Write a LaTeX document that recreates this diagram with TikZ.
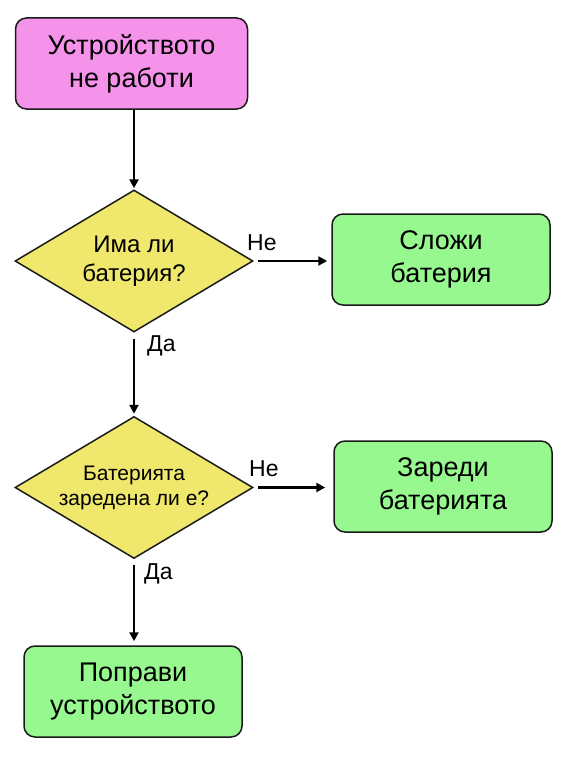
\documentclass[tikz,border=0pt]{standalone}
\usepackage{fontspec}
\setmainfont{Liberation Sans}
\usetikzlibrary{shapes.geometric,arrows.meta}
\definecolor{pinkfill}{HTML}{F593EA}
\definecolor{yellowfill}{HTML}{F0E86C}
\definecolor{greenfill}{HTML}{98F890}
\definecolor{edgecol}{HTML}{1A1A1A}
\begin{document}
\begin{tikzpicture}[x=1pt,y=-1pt,
  boxbase/.style={draw=edgecol, line width=1.5pt, rounded corners=11pt,
    minimum height=91pt, align=center, inner sep=0pt,
    font=\fontsize{27}{33}\selectfont},
  startbox/.style={boxbase, fill=pinkfill, minimum width=232pt},
  actbox/.style={boxbase, fill=greenfill, minimum width=218pt},
  decision/.style={diamond, draw=edgecol, line width=1.5pt, fill=yellowfill,
    aspect=1.676, inner sep=0pt, minimum width=238pt, minimum height=142pt,
    align=center},
  arr/.style={line width=2.5pt, -{Triangle[length=9pt,width=9pt]}},
  lbl/.style={font=\fontsize{23}{27}\selectfont, inner sep=0pt}
]
\useasboundingbox (0,0) rectangle (563,768);
\node[startbox] (start) at (131.5,63.5) {Устройството\\не работи};
\node[decision, font=\fontsize{24}{29}\selectfont] (d1) at (134,261) {Има ли\\батерия?};
\node[actbox] (put) at (441,259.5) {Сложи\\батерия};
\node[decision, font=\fontsize{21}{25}\selectfont] (d2) at (134,487.5) {Батерията\\заредена ли е?};
\node[actbox] (charge) at (443,486.5) {Зареди\\батерията};
\node[actbox] (fix) at (133,691.5) {Поправи\\устройството};

\draw[arr, shorten >=1pt] (start.south -| d1.north) -- (d1.north);
\draw[arr, shorten <=4pt, shorten >=4pt] (d1.east) -- (d1.east -| put.west);
\draw[arr, shorten <=6pt, shorten >=2pt] (d1.south) -- (d2.north);
\draw[arr, shorten <=4pt, shorten >=8pt] (d2.east) -- (d2.east -| charge.west);
\draw[arr, shorten <=6pt, shorten >=4pt] (d2.south) -- (d2.south |- fix.north);

\node[lbl, anchor=west] (ne1) at (247,243) {Не};
\node[lbl, anchor=west] (ne2) at (249,469) {Не};
\node[lbl, anchor=west] (da1) at (147,346) {Да};
\node[lbl, anchor=west] (da2) at (144,574) {Да};
\end{tikzpicture}
\end{document}
